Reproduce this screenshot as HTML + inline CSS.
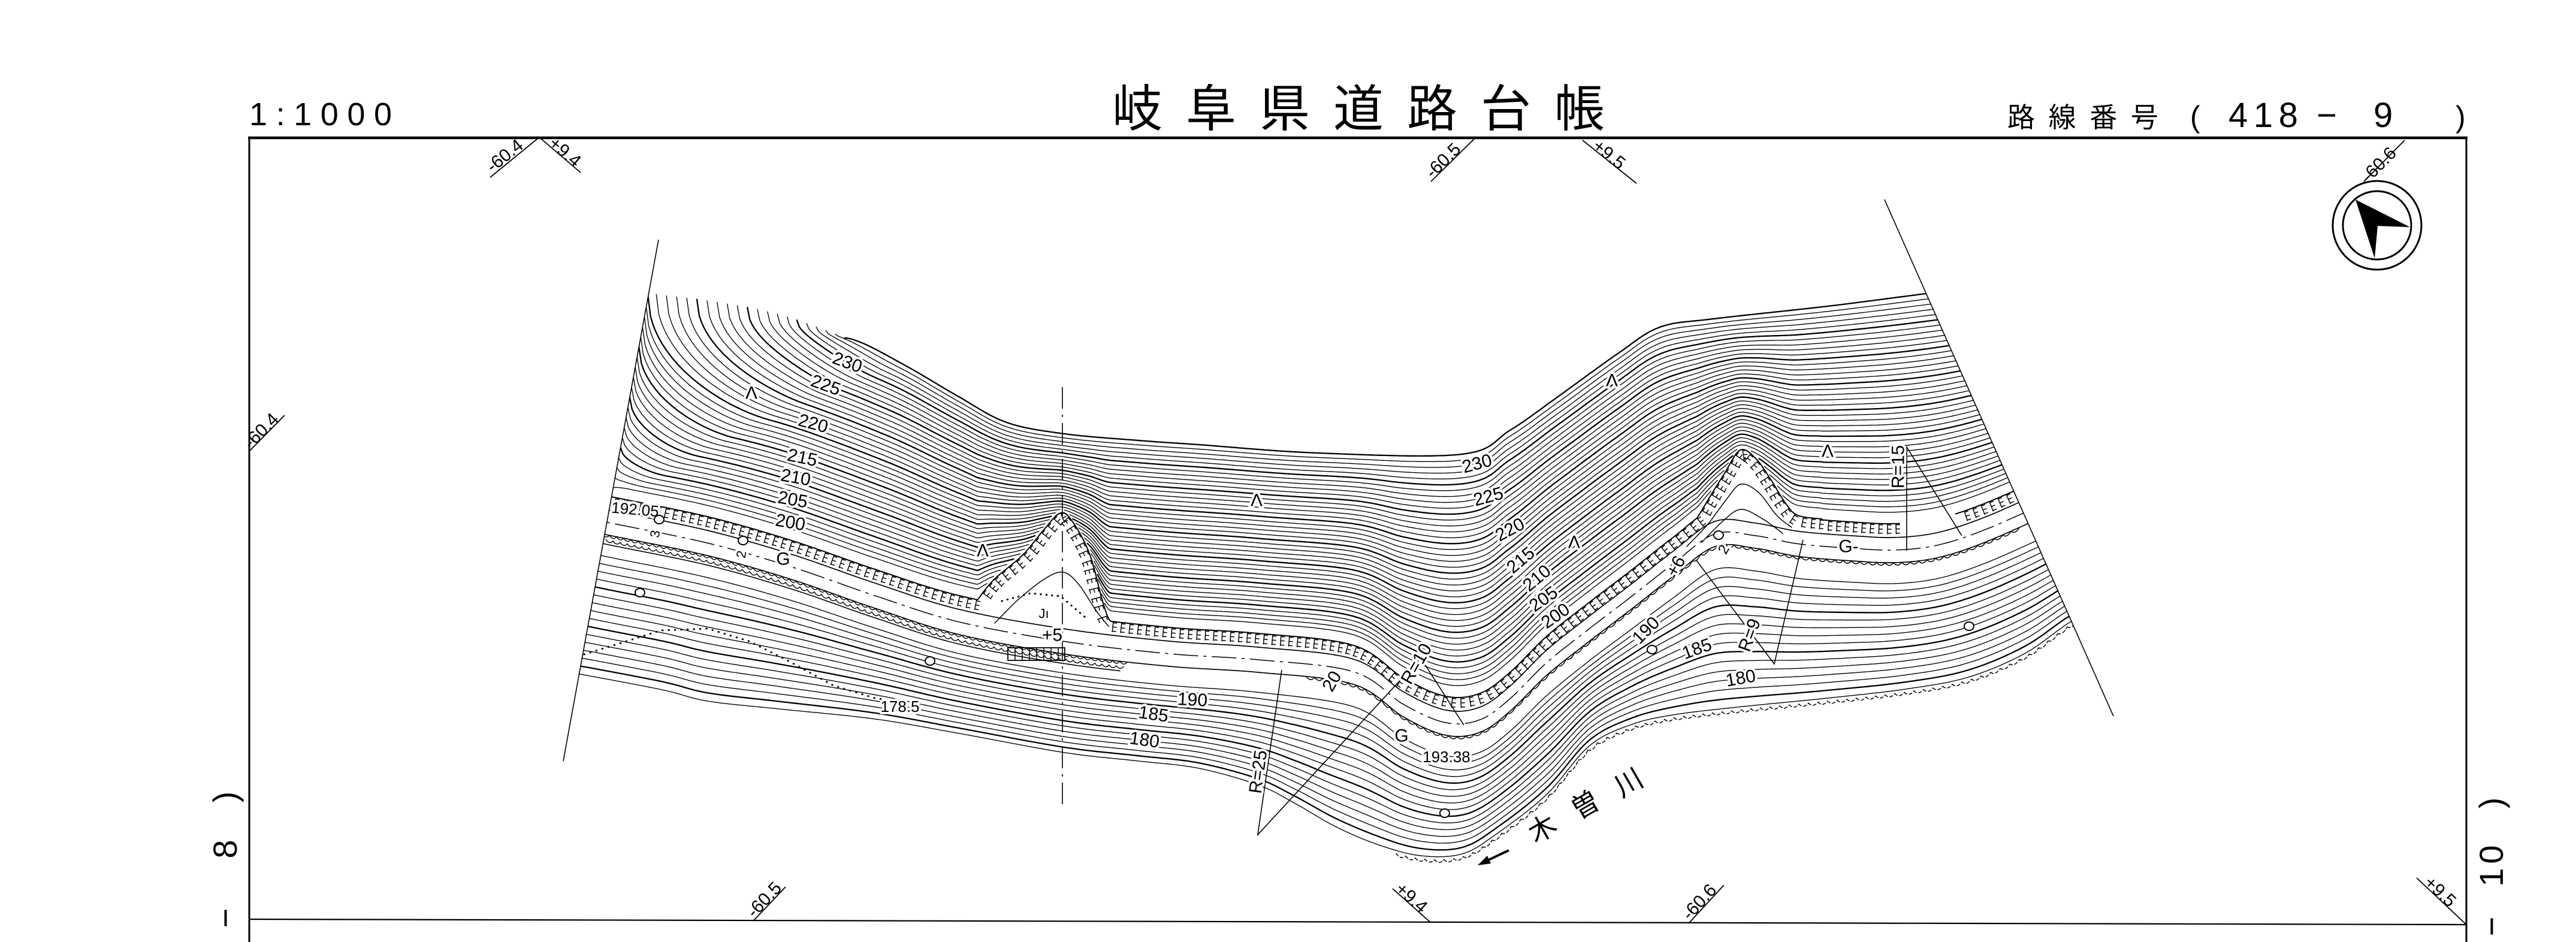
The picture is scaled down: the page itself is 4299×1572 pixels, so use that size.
<!DOCTYPE html>
<html><head><meta charset="utf-8">
<style>
html,body{margin:0;padding:0;background:#fff;width:4299px;height:1572px;overflow:hidden;}
svg{display:block;}
text{font-family:"Liberation Sans","Noto Sans CJK JP",sans-serif;fill:#000;}
.h{paint-order:stroke;stroke:#fff;stroke-width:8px;stroke-linejoin:round;}
.c{font-size:30px;text-anchor:middle;dominant-baseline:central;}
.st{font-size:30px;}
.sd{font-size:56px;text-anchor:middle;}
.jp{font-family:"Liberation Sans","Noto Sans CJK JP",sans-serif;}
</style></head><body>
<svg id="s" xmlns="http://www.w3.org/2000/svg" width="4299" height="1572" viewBox="0 0 4299 1572" overflow="hidden">
<rect width="4299" height="1572" fill="#fff"/>
<defs><clipPath id="cp"><polygon points="1117,300 3130,300 3663,1500 898,1500"/></clipPath></defs>
<g id="g" clip-path="url(#cp)" fill="none" stroke="#000" stroke-linecap="round" stroke-linejoin="round"></g>

<g stroke="#000" fill="none">
<line x1="414" y1="230" x2="4118" y2="230" stroke-width="4.5"/>
<line x1="416" y1="228" x2="416" y2="1572" stroke-width="3"/>
<line x1="4116" y1="228" x2="4116" y2="1572" stroke-width="3"/>
<line x1="416" y1="1534" x2="4116" y2="1543" stroke-width="2.2"/>
<line x1="1099" y1="400" x2="940" y2="1270" stroke-width="1.6"/>
<line x1="3145" y1="333" x2="3527" y2="1195" stroke-width="1.6"/>
<polyline points="818,296 900,229 969,288" stroke-width="1.8"/>
<line x1="2461" y1="231" x2="2388" y2="303" stroke-width="1.8"/>
<line x1="2641" y1="234" x2="2731" y2="306" stroke-width="1.8"/>
<line x1="4013" y1="234" x2="3945" y2="303" stroke-width="1.8"/>
<line x1="415" y1="754" x2="475" y2="693" stroke-width="1.8"/>
<line x1="1257" y1="1537" x2="1311" y2="1480" stroke-width="1.8"/>
<line x1="2387" y1="1539" x2="2324" y2="1483" stroke-width="1.8"/>
<line x1="2818" y1="1541" x2="2877" y2="1477" stroke-width="1.8"/>
<line x1="4116" y1="1543" x2="4033" y2="1465" stroke-width="1.8"/>
<line x1="1773" y1="646" x2="1773" y2="1344" stroke-width="1.6" stroke-dasharray="36 10 4 10"/>
<polyline points="2139,1118 2099,1393 2371,1098 2443,1210" stroke-width="1.6"/>
<polyline points="2831,935 2961,1108 3009,901" stroke-width="1.6"/>
<polyline points="3182,919 3182,746 3274,894" stroke-width="1.6"/>
<rect x="1682" y="1081" width="95" height="21" stroke-width="1.8"/>
<path d="M1694 1081V1102M1706 1081V1102M1718 1081V1102M1730 1081V1102M1742 1081V1102M1754 1081V1102M1766 1081V1102" stroke-width="1.5"/>
<polyline points="975,1092 1030,1075 1103,1052 1181,1049 1250,1070 1314,1102 1391,1144 1460,1165 1531,1175" stroke-width="3" stroke-dasharray="0.5 10" stroke-linecap="round"/>
<polyline points="1672,1003 1720,990 1770,995 1812,1031" stroke-width="3" stroke-dasharray="0.5 9" stroke-linecap="round"/>
<line x1="2518" y1="1419" x2="2480" y2="1437" stroke-width="4"/>
<polygon points="2466,1444 2482,1428 2488,1441" fill="#000" stroke="none"/>
<circle cx="3967" cy="376" r="74" stroke-width="3"/>
<circle cx="3967" cy="376" r="57" stroke-width="3"/>
<polygon points="3931,333 4022,379 3968,377 3963,431" fill="#000" stroke="none"/>
</g>

<text x="416" y="209" font-size="54" textLength="238" lengthAdjust="spacing">1:1000</text>
<text class="jp" x="1856" y="211" font-size="84" textLength="822" lengthAdjust="spacing">岐阜県道路台帳</text>
<text class="jp" x="3350" y="212" font-size="46" textLength="252" lengthAdjust="spacing">路線番号</text>
<text x="3655" y="212" font-size="50">(</text>
<text x="3719" y="212" font-size="58" textLength="116" lengthAdjust="spacing">418</text>
<text x="3866" y="212" font-size="58">−</text>
<text x="3961" y="212" font-size="58">9</text>
<text x="4098" y="212" font-size="50">)</text>

<text class="st" x="822" y="289" transform="rotate(-39 822 289)">-60.4</text>
<text class="st" x="914" y="242" transform="rotate(40.5 914 242)">+9.4</text>
<text class="st" x="2391" y="299" transform="rotate(-44.6 2391 299)">-60.5</text>
<text class="st" x="2656" y="247" transform="rotate(38.7 2656 247)">+9.5</text>
<text class="st" x="3953" y="306" transform="rotate(-45.4 3953 306)">-60.6</text>
<text class="st" x="419" y="750" transform="rotate(-45.5 419 750)">-60.4</text>
<text class="st" x="1259" y="1533" transform="rotate(-46.5 1259 1533)">-60.5</text>
<text class="st" x="2327" y="1486" transform="rotate(41.6 2327 1486)">+9.4</text>
<text class="st" x="2820" y="1537" transform="rotate(-47.3 2820 1537)">-60.6</text>
<text class="st" x="4044" y="1475" transform="rotate(43 4044 1475)">+9.5</text>

<text class="sd" x="395" y="1330" transform="rotate(-90 395 1330)">)</text>
<text class="sd" x="395" y="1417" transform="rotate(-90 395 1417)">8</text>
<text class="sd" x="395" y="1532" transform="rotate(-90 395 1532)">−</text>
<text class="sd" x="4177" y="1340" transform="rotate(-90 4177 1340)">)</text>
<text class="sd" x="4177" y="1426" transform="rotate(-90 4177 1426)">0</text>
<text class="sd" x="4177" y="1464" transform="rotate(-90 4177 1464)">1</text>
<text class="sd" x="4177" y="1546" transform="rotate(-90 4177 1546)">−</text>

<g>
<text class="c h" x="1414" y="605" transform="rotate(20 1414 605)">230</text>
<text class="c h" x="1378" y="643" transform="rotate(20 1378 643)">225</text>
<text class="c h" x="1357" y="707" transform="rotate(15 1357 707)">220</text>
<text class="c h" x="1339" y="764" transform="rotate(12 1339 764)">215</text>
<text class="c h" x="1328" y="797" transform="rotate(10 1328 797)">210</text>
<text class="c h" x="1323" y="834" transform="rotate(10 1323 834)">205</text>
<text class="c h" x="1319" y="872" transform="rotate(10 1319 872)">200</text>
<text class="c h" x="2465" y="774" transform="rotate(-15 2465 774)">230</text>
<text class="c h" x="2484" y="829" transform="rotate(-15 2484 829)">225</text>
<text class="c h" x="2520" y="884" transform="rotate(-28 2520 884)">220</text>
<text class="c h" x="2538" y="935" transform="rotate(-40 2538 935)">215</text>
<text class="c h" x="2565" y="965" transform="rotate(-40 2565 965)">210</text>
<text class="c h" x="2576" y="1000" transform="rotate(-35 2576 1000)">205</text>
<text class="c h" x="2596" y="1028" transform="rotate(-35 2596 1028)">200</text>
<text class="c h" x="1060" y="850" style="font-size:26px" transform="rotate(5 1060 850)">192.05</text>
<text class="c h" x="1502" y="1179" style="font-size:26px">178.5</text>
<text class="c h" x="1990" y="1168" transform="rotate(3 1990 1168)">190</text>
<text class="c h" x="1925" y="1192" transform="rotate(8 1925 1192)">185</text>
<text class="c h" x="1910" y="1235" transform="rotate(8 1910 1235)">180</text>
<text class="c h" x="2747" y="1052" transform="rotate(-45 2747 1052)">190</text>
<text class="c h" x="2832" y="1083" transform="rotate(-20 2832 1083)">185</text>
<text class="c h" x="2905" y="1132" transform="rotate(-10 2905 1132)">180</text>
<text class="c h" x="2414" y="1263" style="font-size:26px">193.38</text>
<text class="c h" x="1307" y="933">G</text>
<text class="c h" x="2339" y="1228">G</text>
<text class="c h" x="3085" y="912">G-</text>
<text class="c h" x="1756" y="1060">+5</text>
<text class="c h" x="2797" y="945" transform="rotate(-60 2797 945)">+6</text>
<text class="c h" x="2364" y="1108" transform="rotate(-60 2364 1108)">R=10</text>
<text class="c h" x="2223" y="1137" transform="rotate(-60 2223 1137)">20</text>
<text class="c h" x="2100" y="1288" transform="rotate(-82 2100 1288)">R=25</text>
<text class="c h" x="2920" y="1060" transform="rotate(-70 2920 1060)">R=9</text>
<text class="c h" x="3168" y="779" transform="rotate(-90 3168 779)">R=15</text>
<text class="c h" x="2877" y="917" transform="rotate(-60 2877 917)" style="font-size:24px">2</text>
<text class="c h" x="1093" y="891" transform="rotate(-80 1093 891)" style="font-size:22px">3</text>
<text class="c h" x="1237" y="925" transform="rotate(-80 1237 925)" style="font-size:22px">2</text>
<text class="c h" x="1254" y="656">Λ</text>
<text class="c h" x="1640" y="919">Λ</text>
<text class="c h" x="2097" y="835">Λ</text>
<text class="c h" x="2690" y="635">Λ</text>
<text class="c h" x="2627" y="905">Λ</text>
<text class="c h" x="3050" y="753">Λ</text>
<text class="c h" x="1742" y="1024" style="font-size:22px">Jı</text>
<g fill="#fff" stroke="#000" stroke-width="2">
<ellipse cx="1100" cy="867" rx="8" ry="7"/><ellipse cx="1240" cy="902" rx="8" ry="7"/>
<ellipse cx="1068" cy="989" rx="8" ry="7"/><ellipse cx="1552" cy="1103" rx="8" ry="7"/>
<ellipse cx="2757" cy="1084" rx="8" ry="7"/><ellipse cx="2411" cy="1357" rx="8" ry="7"/>
<ellipse cx="3286" cy="1045" rx="8" ry="7"/><ellipse cx="2868" cy="893" rx="8" ry="7"/>
</g>
<text class="jp h" x="2574" y="1383" font-size="46" text-anchor="middle" dominant-baseline="central" transform="rotate(-30 2574 1383)">木</text>
<text class="jp h" x="2646" y="1343" font-size="46" text-anchor="middle" dominant-baseline="central" transform="rotate(-30 2646 1343)">曽</text>
<text class="jp h" x="2718" y="1306" font-size="46" text-anchor="middle" dominant-baseline="central" transform="rotate(-30 2718 1306)">川</text>
</g>
</svg>
<script>
(function(){
var NS="http://www.w3.org/2000/svg",g=document.getElementById("g");
function cr(p,n){var o=[];for(var i=0;i<p.length-1;i++){var a=p[Math.max(i-1,0)],b=p[i],c=p[i+1],d=p[Math.min(i+2,p.length-1)];for(var k=0;k<n;k++){var t=k/n,t2=t*t,t3=t2*t;var f=function(A,B,C,D){return 0.5*(2*B+(-A+C)*t+(2*A-5*B+4*C-D)*t2+(-A+3*B-3*C+D)*t3);};o.push([f(a[0],b[0],c[0],d[0]),f(a[1],b[1],c[1],d[1])]);}}o.push(p[p.length-1]);return o;}
function yAt(d,x){if(x<=d[0][0])return d[0][1];var L=d.length-1;if(x>=d[L][0])return d[L][1];var lo=0,hi=L;while(hi-lo>1){var m=(lo+hi)>>1;if(d[m][0]<=x)lo=m;else hi=m;}var a=d[lo],b=d[hi],t=(x-a[0])/((b[0]-a[0])||1);return a[1]+(b[1]-a[1])*t;}
function inR(d,x){return x>=d[0][0]&&x<=d[d.length-1][0];}
var R=cr([[985,869],[1020,877],[1180,910],[1321,950],[1460,998],[1601,1042],[1780,1075],[1952,1095],[2100,1105],[2259,1125],[2343,1180],[2413,1210],[2470,1205],[2520,1170],[2581,1110],[2650,1055],[2722,1000],[2792,945],[2862,895],[2930,898],[3004,912],[3106,920],[3157,922],[3210,918],[3259,907],[3320,885],[3400,850],[3460,825]],12);
var U=cr([[1040,485],[1100,492],[1200,505],[1300,525],[1400,560],[1470,590],[1520,615],[1600,662],[1680,705],[1777,724],[1900,735],[2000,742],[2200,756],[2440,758],[2520,718],[2600,662],[2700,590],[2770,546],[2860,532],[3050,511],[3230,488],[3320,478]],12);
var B=cr([[930,1118],[1100,1150],[1181,1170],[1300,1183],[1461,1200],[1601,1224],[1777,1256],[1900,1270],[2000,1282],[2100,1310],[2160,1340],[2230,1380],[2301,1410],[2371,1428],[2440,1425],[2497,1392],[2581,1326],[2652,1245],[2720,1210],[2792,1193],[2900,1180],[3050,1165],[3180,1150],[3285,1130],[3380,1090],[3460,1035],[3540,1000]],12);
var K1=cr([[1630,1003],[1658,968],[1707,926],[1742,884],[1770,856],[1791,872],[1819,926],[1840,1003],[1854,1038],[1875,1040]],8);
var K2=cr([[2770,965],[2820,885],[2850,835],[2878,790],[2904,751],[2930,765],[2955,800],[2980,840],[3000,860],[3040,866]],8);
function W(x){var w=yAt(R,x)-48;if(inR(K1,x))w=Math.min(w,yAt(K1,x));if(inR(K2,x))w=Math.min(w,yAt(K2,x));return w;}
function add(d,sw,ex){if(!d)return;var e=document.createElementNS(NS,"path");e.setAttribute("d",d);e.setAttribute("stroke-width",sw);if(ex)for(var k in ex)e.setAttribute(k,ex[k]);g.appendChild(e);return e;}
var X0=900,X1=3620,DX=4,x;
function yb(s,x){var u=yAt(U,x),wb=yAt(R,x)-48,w=W(x);return u+s*(wb-10-u)-Math.pow(s,1.5)*0.55*(wb-w);}
// start path along top edge then left boundary
var SP=[];
for(x=1410;x>=1092;x-=4)SP.push([x,yAt(U,x)]);
var yc=yAt(U,1092);
for(var yy=yc;yy<=835;yy+=4)SP.push([1099-(yy-400)*0.18276,yy]);
var cum=[0];for(var q=1;q<SP.length;q++){var ddx=SP[q][0]-SP[q-1][0],ddy=SP[q][1]-SP[q-1][1];cum.push(cum[q-1]+Math.sqrt(ddx*ddx+ddy*ddy));}
var TOT=cum[cum.length-1];
function spt(p){var t=p*TOT;for(var q=1;q<SP.length;q++){if(cum[q]>=t){var f=(t-cum[q-1])/((cum[q]-cum[q-1])||1);return [SP[q-1][0]+(SP[q][0]-SP[q-1][0])*f,SP[q-1][1]+(SP[q][1]-SP[q-1][1])*f];}}return SP[SP.length-1];}
// upper contours
var N=40;
for(var i=0;i<N;i++){var s=i/N,d="",pen=false;
 var st=spt(s),xs=st[0],ys=st[1];
 var L=Math.max(50,Math.min(330,yb(s,xs+200)-ys));
 for(x=xs;x<=X1;x+=DX){var w=W(x),ybx=yb(s,x),y;
  var t=(x-xs)/L;
  if(t<1){y=ys+(ybx-ys)*Math.sqrt(Math.max(0,1-(1-t)*(1-t)));}else y=ybx;
  if(y<w-5){d+=(pen?"L":"M")+x.toFixed(1)+" "+y.toFixed(1);pen=true;}else pen=false;}
 add(d,i%5==0?2.3:1.35);}
// lower contours
var M=16;
for(var j=1;j<=M;j++){var s2=j/M,d2="";
 for(x=X0;x<=X1;x+=DX){var a=yAt(R,x)+40,b=yAt(B,x);var y2=a+s2*(b-a);d2+=(x==X0?"M":"L")+x+" "+y2.toFixed(1);}
 add(d2,j%5==0?2.3:1.35);}
function offLine(off,xa,xb){var d="";for(var xx=xa;xx<=xb;xx+=DX){d+=(xx==xa?"M":"L")+xx+" "+(yAt(R,xx)+off).toFixed(1);}return d;}
add(offLine(-25,X0,X1),1.7);
add(offLine(17,X0,X1),1.7);
add(offLine(-4,X0,X1),1.5,{"stroke-dasharray":"40 10 4 10"});
// wall with E ticks
function wall(xa,xb){var pts=[];for(var xx=xa;xx<=xb;xx+=2)pts.push([xx,W(xx)]);
 var d="M"+pts.map(function(p){return p[0]+" "+p[1].toFixed(1);}).join("L");add(d,2);
 var acc=0,tk="";
 for(var k=1;k<pts.length;k++){var dx=pts[k][0]-pts[k-1][0],dy=pts[k][1]-pts[k-1][1],l=Math.sqrt(dx*dx+dy*dy);acc+=l;
  if(acc>=14){acc=0;var tx=dx/l,ty=dy/l,nx=-ty,ny=tx,p=pts[k];
   tk+="M"+p[0].toFixed(1)+" "+p[1].toFixed(1)+"L"+(p[0]+nx*17).toFixed(1)+" "+(p[1]+ny*17).toFixed(1);
   for(var b2=0;b2<3;b2++){var dd=2+b2*7;var mx=p[0]+nx*dd,my=p[1]+ny*dd;tk+="M"+mx.toFixed(1)+" "+my.toFixed(1)+"L"+(mx+tx*6).toFixed(1)+" "+(my+ty*6).toFixed(1);}
  }}
 add(tk,1.5);}
wall(1000,3170);wall(3264,3385);
function poly(p,sw,ex){var qq=cr(p,8);add("M"+qq.map(function(a){return a[0].toFixed(1)+" "+a[1].toFixed(1);}).join("L"),sw,ex);}
poly([[1660,1040],[1700,1000],[1745,965],[1775,955],[1800,975],[1830,1020],[1850,1045]],1.5);
poly([[2815,912],[2850,875],[2880,835],[2905,808],[2935,822],[2965,860],[2990,880]],1.5);
poly([[2840,905],[2875,870],[2905,850],[2940,865],[2975,890]],1.5);
var sb="";
for(var row=0;row<2;row++){var off=17+row*8,sh=row*6;
 for(x=1005+sh;x<1870;x+=12){var y1=yAt(R,x)+off,y3=yAt(R,x+12)+off,ym=(y1+y3)/2+8;
  sb+="M"+x+" "+y1.toFixed(1)+"Q"+(x+6)+" "+ym.toFixed(1)+" "+(x+12)+" "+y3.toFixed(1);}}
add(sb,1.4);add(offLine(33,1005,1870),1.6);
var rs="";
for(x=2180;x<3370;x+=14){var a1=yAt(R,x)+17,a2=yAt(R,x+14)+17;rs+="M"+x+" "+a1.toFixed(1)+"Q"+(x+7)+" "+((a1+a2)/2+9).toFixed(1)+" "+(x+14)+" "+a2.toFixed(1);}
add(rs,1.5);
var rb="";
for(x=2330;x<3460;x+=16){var b1=yAt(B,x)+5,b3=yAt(B,x+16)+5;rb+="M"+x+" "+b1.toFixed(1)+"Q"+(x+8)+" "+((b1+b3)/2+9).toFixed(1)+" "+(x+16)+" "+b3.toFixed(1);}
add(rb,1.5,{"stroke-dasharray":"5 4"});
})();
</script>
</body></html>
